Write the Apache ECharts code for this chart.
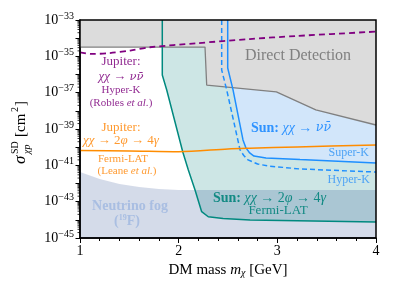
<!DOCTYPE html>
<html><head><meta charset="utf-8">
<script src="https://cdn.jsdelivr.net/npm/echarts@6/dist/echarts.min.js"></script>
<style>html,body{margin:0;padding:0;background:#fff}#c{width:396px;height:297px}#err{position:absolute;left:0;top:0;font:10px monospace;color:red;width:396px;white-space:pre-wrap}</style>
</head><body><div id="c"></div><div id="err"></div>
<script>
// ---- data: x = DM mass [GeV], y = log10(sigma_SD / cm^2) ----
const xTicks = [1, 2, 3, 4];
const yLabelExps = [-33, -35, -37, -39, -41, -43, -45];
const minorMultipliers = [2, 3, 4, 5, 6, 7, 8, 9];

const ddX = [1.0, 2.267, 2.284, 2.99, 3.39, 4.0];
const ddY = [-34.49, -34.49, -36.58, -36.96, -37.95, -38.78];

const sunGamX = [1.834, 1.834, 1.879, 2.041, 2.098, 2.166, 2.233, 2.30, 2.45, 2.723, 4.0];
const sunGamY = [-33, -36.03, -36.85, -40.25, -41.26, -42.36, -43.55, -43.83, -43.92, -44.01, -44.12];

const superKX = [2.497, 2.497, 2.551, 2.652, 2.682, 2.72, 2.763, 2.885, 3.23, 4.0];
const superKY = [-33, -35.64, -36.85, -39.60, -40.04, -40.32, -40.49, -40.59, -40.68, -40.87];

const hyperKX = [2.436, 2.436, 2.487, 2.622, 2.66, 2.703, 2.8, 2.916, 3.23, 4.0];
const hyperKY = [-33, -35.75, -36.85, -40.15, -40.46, -40.70, -40.93, -41.04, -41.20, -41.37];

const jupGamX = [1.0, 1.5, 2.0, 2.5, 2.72, 3.2, 4.0];
const jupGamY = [-40.19, -40.21, -40.25, -40.10, -40.06, -39.99, -39.88];

const jupNuX = [1.0, 1.13, 1.30, 1.51, 1.71, 2.18, 2.72, 3.19, 4.0];
const jupNuY = [-34.78, -34.87, -34.82, -34.68, -34.50, -34.28, -34.05, -33.88, -33.64];

const fogX = [1.0, 1.2, 1.4, 1.6, 1.8, 2.0, 4.0];
const fogY = [-41.37, -41.75, -42.03, -42.19, -42.30, -42.36, -42.36];

const zip = (a, b) => a.map((v, i) => [v, b[i]]);
const FONT = 'Liberation Serif';
const GFONT = 'DejaVu Serif';
const Y_MIN = -45, Y_MAX = -33;

window.onerror = function (m) { document.getElementById('err').textContent += m + '\n'; };

const chart = echarts.init(document.getElementById('c'), null, {renderer: 'canvas'});

function fill(name, xs, ys, color, origin, z) {
  return {name, type: 'line', data: zip(xs, ys), symbol: 'none', silent: true, z,
    lineStyle: {width: 0, opacity: 0}, areaStyle: {color, origin, opacity: 1}};
}
function line(name, xs, ys, color, width, type, z, smooth) {
  return {name, type: 'line', data: zip(xs, ys), symbol: 'none', silent: true, z,
    smooth: smooth || false, lineStyle: {color, width, type}};
}

// log-spaced minor ticks (2..9 x 10^n) on the left axis
const minorTickData = [];
for (let d = Y_MIN; d < Y_MAX; d++) minorMultipliers.forEach(k => minorTickData.push([xTicks[0], d + Math.log10(k)]));

const t = (text, x, y, size, color, extra) => Object.assign({
  type: 'text', x, y, z: 50, silent: true,
  style: Object.assign({text, fill: color, font: size + 'px "' + FONT + '"', align: 'center', verticalAlign: 'middle'}, extra || {})
});
const greek = (size, color) => ({fontStyle: 'italic', fontFamily: GFONT, fontSize: size, fill: color});
const ital = (size, color) => ({fontStyle: 'italic', fontFamily: FONT, fontSize: size, fill: color});

const PURPLE = '#922c92', ORANGE = '#ff9a30', BLUE = '#2f93ff', TEAL = '#138a84';

const option = {
  animation: false,
  backgroundColor: '#fff',
  grid: {left: 80, right: 20, top: 20, bottom: 59, show: true, borderColor: '#000', borderWidth: 1.5, backgroundColor: 'transparent', z: 20},
  xAxis: {
    type: 'value', min: xTicks[0], max: xTicks[xTicks.length - 1], interval: 1,
    axisLine: {show: true, lineStyle: {color: '#000', width: 1.5}},
    axisTick: {show: true, length: 5, lineStyle: {color: '#000'}},
    minorTick: {show: true, splitNumber: 5, length: 3, lineStyle: {color: '#000'}},
    splitLine: {show: false},
    axisLabel: {color: '#000', fontFamily: FONT, fontSize: 14, margin: 6},
    name: 'DM mass {i|m}{sub|χ} [GeV]', nameLocation: 'middle', nameGap: 24,
    nameTextStyle: {color: '#000', fontFamily: FONT, fontSize: 15,
      rich: {i: {fontFamily: FONT, fontSize: 15, fontStyle: 'italic', color: '#000'},
             sub: {fontFamily: FONT, fontSize: 10, fontStyle: 'italic', color: '#000', padding: [6, 0, 0, 0]}}}
  },
  yAxis: {
    type: 'value', min: Y_MIN, max: Y_MAX, interval: 1,
    axisLine: {show: true, lineStyle: {color: '#000', width: 1.5}},
    axisTick: {show: true, length: 4.5, lineStyle: {color: '#000'}},
    splitLine: {show: false},
    axisLabel: {
      interval: 0, margin: 6, color: '#000', fontFamily: FONT, fontSize: 14,
      formatter: v => {
        const e = Math.round(v);
        if (yLabelExps.indexOf(e) < 0) return '';
        return '{b|10}{s|−' + (-e) + '}';
      },
      rich: {b: {fontFamily: FONT, fontSize: 14, color: '#000'},
             s: {fontFamily: FONT, fontSize: 10, color: '#000', padding: [0, 0, 8, 0]}}
    }
  },
  series: [
    fill('sunGamFill', sunGamX, sunGamY, '#cde6e5', 'end', 1),
    fill('superKFill', superKX, superKY, '#d2e6fa', 'end', 2),
    fill('ddFill', ddX, ddY, '#dcdcdc', 'end', 3),
    fill('fogFill', fogX, fogY, 'rgba(0,43,126,0.17)', 'start', 4),
    line('dd', ddX, ddY, '#808080', 1.3, 'solid', 5),
    line('sunGam', sunGamX, sunGamY, '#00897f', 1.5, 'solid', 6),
    line('hyperK', hyperKX, hyperKY, '#1e8fff', 1.5, [5, 3], 7),
    line('superK', superKX, superKY, '#1e8fff', 1.5, 'solid', 7),
    line('jupGam', jupGamX, jupGamY, '#ff8c00', 1.5, 'solid', 8, 0.3),
    line('jupNu', jupNuX, jupNuY, '#800080', 1.8, [6, 4], 9, 0.3),
    {type: 'custom', name: 'minorTicks', data: minorTickData, silent: true, clip: false, z: 21,
      renderItem: (params, api) => {
        const p = api.coord([api.value(0), api.value(1)]);
        return {type: 'line', shape: {x1: p[0] - 2.5, y1: p[1], x2: p[0], y2: p[1]}, style: {stroke: '#000', lineWidth: 0.8}};
      }}
  ],
  graphic: [
    {type: 'group', x: 21, y: 126, rotation: Math.PI / 2, z: 50, silent: true, children: [
      {type: 'text', x: -38, y: 0, style: {text: 'σ', fill: '#000', font: 'italic 17px "' + FONT + '"', verticalAlign: 'middle', align: 'left'}},
      {type: 'text', x: -28, y: -6, style: {text: 'SD', fill: '#000', font: '10px "' + FONT + '"', verticalAlign: 'middle', align: 'left'}},
      {type: 'text', x: -28, y: 6, style: {text: 'χp', fill: '#000', font: 'italic 10px "' + FONT + '"', verticalAlign: 'middle', align: 'left'}},
      {type: 'text', x: -11, y: 0, style: {text: '[cm', fill: '#000', font: '15px "' + FONT + '"', verticalAlign: 'middle', align: 'left'}},
      {type: 'text', x: 14, y: -6, style: {text: '2', fill: '#000', font: '10px "' + FONT + '"', verticalAlign: 'middle', align: 'left'}},
      {type: 'text', x: 20, y: 0, style: {text: ']', fill: '#000', font: '15px "' + FONT + '"', verticalAlign: 'middle', align: 'left'}}
    ]},
    t('Jupiter:', 121, 62, 13, PURPLE),
    t('{i|χχ} → {g|νν̄}', 121, 77, 13, PURPLE, {rich: {i: ital(13, PURPLE), g: greek(11.5, PURPLE)}}),
    t('Hyper-K', 121, 90, 11, PURPLE),
    t('(Robles {i|et al.})', 121, 103, 11, PURPLE, {rich: {i: ital(11, PURPLE)}}),
    t('Jupiter:', 121, 128, 13, ORANGE),
    t('{i|χχ} → 2{i|φ} → 4{i|γ}', 121, 141, 13, ORANGE, {rich: {i: ital(13, ORANGE)}}),
    t('Fermi-LAT', 123, 159, 11, ORANGE),
    t('(Leane {i|et al.})', 127, 171, 11, ORANGE, {rich: {i: ital(11, ORANGE)}}),
    t('Neutrino fog', 130, 206, 14, '#a9bee2', {font: 'bold 14px "' + FONT + '"'}),
    t('({s|19}F)', 127, 221, 14, '#a9bee2', {font: 'bold 14px "' + FONT + '"', rich: {s: {fontFamily: FONT, fontSize: 8, fontWeight: 'bold', fill: '#a9bee2', padding: [0, 0, 7, 0]}}}),
    t('Direct Detection', 298, 56, 16, '#808080'),
    t('{b|Sun:} {i|χχ} → {g|νν̄}', 251, 128, 14, BLUE, {align: 'left', rich: {
      b: {fontWeight: 'bold', fontFamily: FONT, fontSize: 14, fill: BLUE}, i: ital(14, BLUE), g: greek(12.5, BLUE)}}),
    t('Super-K', 369, 153, 12, '#4ea3f5', {align: 'right'}),
    t('Hyper-K', 370, 180, 12, '#4ea3f5', {align: 'right'}),
    t('{b|Sun:} {i|χχ} → 2{i|φ} → 4{i|γ}', 213, 198, 14, TEAL, {align: 'left', rich: {
      b: {fontWeight: 'bold', fontFamily: FONT, fontSize: 14, fill: TEAL}, i: ital(14, TEAL)}}),
    t('Fermi-LAT', 278, 211, 13, TEAL)
  ]
};
try { chart.setOption(option); } catch (e) { document.getElementById('err').textContent += 'ERR: ' + e.message; }
</script>
</body></html>
